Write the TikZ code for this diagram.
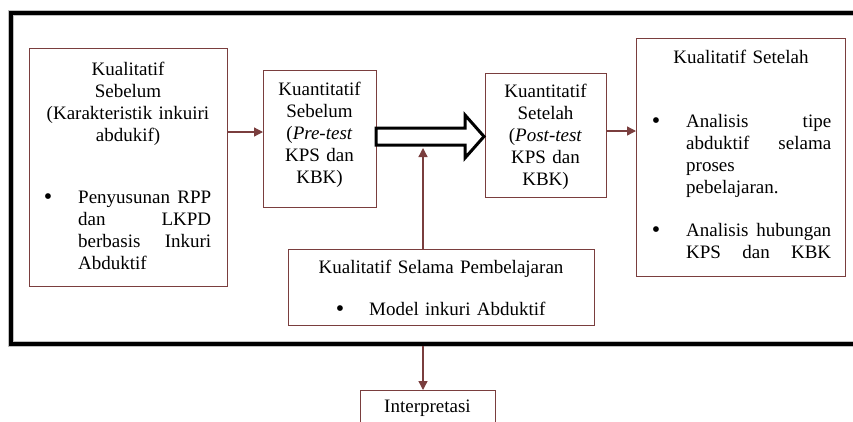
\documentclass[tikz,border=0pt]{standalone}
\usepackage{fontspec}
\setmainfont{Liberation Serif}
\usetikzlibrary{arrows.meta,calc}
\definecolor{brn}{RGB}{122,62,62}
\newcommand\diafs{\fontsize{19}{22}\selectfont}
\newcommand\jline[1]{\leavevmode\hbox to\linewidth{#1}}
\newcommand\bigbul{\raisebox{-1.5pt}{\fontsize{24}{24}\selectfont\textbullet}}
\begin{document}
\begin{tikzpicture}[x=1pt,y=-1pt,
  box/.style={draw=brn,line width=1.3pt,inner sep=0pt,anchor=north west,rectangle},
  txt/.style={inner sep=0pt,font=\diafs,text width=#1,align=center,anchor=base},
  ltxt/.style={inner sep=0pt,font=\diafs,text width=#1,align=left,anchor=base west},
  bul/.style={inner sep=0pt,font=\diafs,anchor=base},
  arr/.style={draw=brn,line width=1.3pt,-{Triangle[length=9pt,width=9pt]}}]
\useasboundingbox (0,0) rectangle (853,421);
\clip (0,0) rectangle (853,421);
% outer frame
\draw[gray!50,line width=5.5pt] (880,13) -- (11,13) -- (11,344) -- (880,344);
\draw[black,line width=3.4pt] (880,13) -- (11,13) -- (11,344) -- (880,344);
% boxes
\node[box,minimum width=198pt,minimum height=238pt] (b1) at (29,48) {};
\node[box,minimum width=113pt,minimum height=137pt] (b2) at (263,70) {};
\node[box,minimum width=121pt,minimum height=124pt] (b3) at (485,73) {};
\node[box,minimum width=209pt,minimum height=238pt] (b4) at (636,38) {};
\node[box,minimum width=306pt,minimum height=76pt] (b5) at (288,249) {};
\node[box,minimum width=135pt,minimum height=60pt] (ip) at (360,390) {};
% texts box 1
\node[txt=190pt] (t1) at (128,75) {Kualitatif\\Sebelum\\(Karakteristik inkuiri\\abdukif)};
\node[bul] (u1) at (48,203) {\bigbul};
\node[ltxt=133pt] (p1) at (78,203) {\jline{Penyusunan\hfill RPP}\\\jline{dan\hfill LKPD}\\\jline{berbasis\hfill Inkuri}\\Abduktif};
% box 2
\node[txt=110pt] (t2) at (319.5,95) {Kuantitatif\\Sebelum\\(\textit{Pre-test}\\KPS dan\\KBK)};
% box 3
\node[txt=118pt] (t3) at (545.5,97) {Kuantitatif\\Setelah\\(\textit{Post-test}\\KPS dan\\KBK)};
% box 4
\node[txt=200pt] (t4) at (741,63) {Kualitatif Setelah};
\node[bul] (u4a) at (656,127) {\bigbul};
\node[ltxt=145pt] (p4a) at (686,127) {\jline{Analisis\hfill tipe}\\\jline{abduktif\hfill selama}\\proses\\pebelajaran.};
\node[bul] (u4b) at (656,236) {\bigbul};
\node[ltxt=145pt] (p4b) at (686,236) {\jline{Analisis\hfill hubungan}\\\jline{KPS\hfill dan\hfill KBK}};
% box 5
\node[txt=300pt] (t5) at (441,273) {Kualitatif Selama Pembelajaran};
\node[bul] (u5) at (340,315) {\bigbul};
\node[ltxt=220pt] (p5) at (369,315) {Model inkuri Abduktif};
% interpretasi
\node[txt=130pt] (t6) at (427.5,412) {Interpretasi};
% big hollow arrow
\draw[black,line width=3pt,fill=white,line join=miter]
  (376,128) -- (465,128) -- (465,115) -- (484,136.5) -- (465,158) -- (465,145) -- (376,145) -- cycle;
% connectors
\coordinate (y12) at (0,132);
\coordinate (y34) at (0,131);
\coordinate (hb) at (423,148);
\coordinate (fb) at (423,346);
\draw[arr] (b1.east |- y12) -- (b2.west |- y12);
\draw[arr] (b3.east |- y34) -- (b4.west |- y34);
\draw[arr] (b5.north -| hb) -- (hb);
\draw[arr] (fb) -- (ip.north -| fb);
\end{tikzpicture}
\end{document}
